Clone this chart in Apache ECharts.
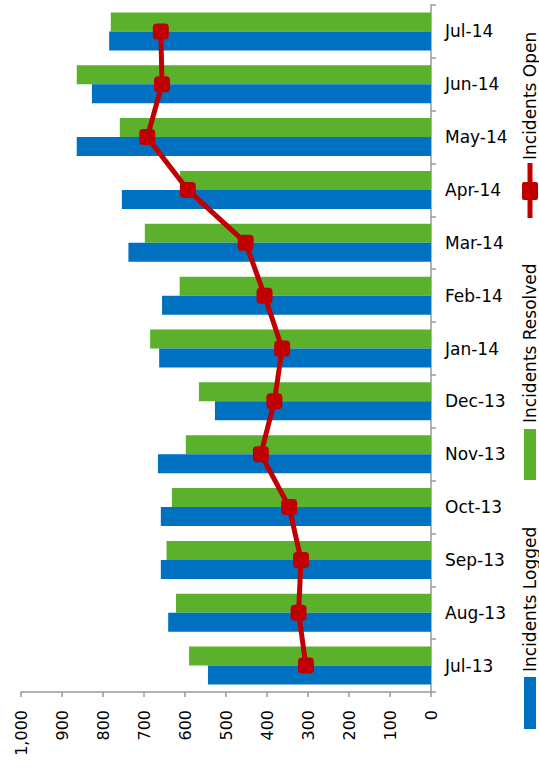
<!DOCTYPE html>
<html>
<head>
<meta charset="utf-8">
<script src="https://cdn.jsdelivr.net/npm/echarts@6/dist/echarts.min.js"></script>
<style>
  html, body { margin: 0; padding: 0; background: #fff; }
  #chart { width: 539px; height: 770px; }
</style>
</head>
<body>
<div id="chart"></div>
<script>
// Monthly incident figures, Jul-13 (bottom) to Jul-14 (top)
const months = ['Jul-13', 'Aug-13', 'Sep-13', 'Oct-13', 'Nov-13', 'Dec-13',
                'Jan-14', 'Feb-14', 'Mar-14', 'Apr-14', 'May-14', 'Jun-14', 'Jul-14'];
const logged   = [544, 641, 659, 659, 666, 527, 663, 656, 738, 754, 864, 827, 785];
const resolved = [590, 622, 645, 632, 598, 566, 685, 613, 698, 612, 759, 864, 781];
const openNow  = [305, 323, 317, 346, 415, 382, 363, 406, 452, 593, 692, 656, 659];
const seriesNames = ['Incidents Logged', 'Incidents Resolved', 'Incidents Open'];
const valueMax = 1000;
const valueStep = 100;

const BLUE = '#0070C0';
const GREEN = '#5BB12B';
const RED = '#C00000';
const AXIS = '#9a9a9a';
const FONT = 'DejaVu Sans';

const chart = echarts.init(document.getElementById('chart'), null, { renderer: 'svg' });

// Legend drawn as a vertical strip with text reading bottom-to-top
const legendX = 530;
const legendGraphics = [
  // Incidents Logged
  { type: 'rect', shape: { x: 524, y: 677, width: 12, height: 52 }, style: { fill: BLUE } },
  { type: 'text', x: legendX, y: 672, rotation: Math.PI / 2,
    style: { text: seriesNames[0], fill: '#000', font: '17px "' + FONT + '"',
             textAlign: 'left', textVerticalAlign: 'middle' } },
  // Incidents Resolved
  { type: 'rect', shape: { x: 524, y: 429, width: 12, height: 51 }, style: { fill: GREEN } },
  { type: 'text', x: legendX, y: 423, rotation: Math.PI / 2,
    style: { text: seriesNames[1], fill: '#000', font: '17px "' + FONT + '"',
             textAlign: 'left', textVerticalAlign: 'middle' } },
  // Incidents Open
  { type: 'line', shape: { x1: legendX, y1: 163, x2: legendX, y2: 218 },
    style: { stroke: RED, lineWidth: 5 } },
  { type: 'rect', shape: { x: 522, y: 182, width: 16, height: 18, r: 2 }, style: { fill: RED } },
  { type: 'text', x: legendX, y: 160, rotation: Math.PI / 2,
    style: { text: seriesNames[2], fill: '#000', font: '17px "' + FONT + '"',
             textAlign: 'left', textVerticalAlign: 'middle' } }
];

chart.setOption({
  animation: false,
  backgroundColor: '#fff',
  textStyle: { fontFamily: FONT },
  grid: { left: 21, right: 108, top: 5, bottom: 78 },
  xAxis: {
    type: 'value',
    inverse: true,
    position: 'bottom',
    min: 0,
    max: valueMax,
    interval: valueStep,
    axisLine: { show: true, lineStyle: { color: AXIS, width: 1.5 } },
    axisTick: { show: true, length: 5, lineStyle: { color: AXIS, width: 1.5 } },
    splitLine: { show: false },
    axisLabel: {
      rotate: 90,
      margin: 18,
      color: '#000',
      fontSize: 16,
      fontFamily: FONT,
      formatter: v => v.toLocaleString('en-US')
    }
  },
  yAxis: {
    type: 'category',
    position: 'right',
    data: months,
    axisLine: { show: true, lineStyle: { color: AXIS, width: 1.5 } },
    axisTick: { show: true, length: 5, lineStyle: { color: AXIS, width: 1.5 } },
    axisLabel: { margin: 14, color: '#000', fontSize: 17, fontFamily: FONT }
  },
  series: [
    // Resolved listed first so it sits above Logged within each month band
    {
      name: seriesNames[1], type: 'bar', data: resolved,
      barWidth: 19, barGap: '0%',
      itemStyle: { color: GREEN }
    },
    {
      name: seriesNames[0], type: 'bar', data: logged,
      barWidth: 19, barGap: '0%',
      itemStyle: { color: BLUE }
    },
    {
      name: seriesNames[2], type: 'line', data: openNow,
      z: 5,
      symbol: 'roundRect', symbolSize: 16,
      lineStyle: { color: RED, width: 5 },
      itemStyle: { color: RED }
    }
  ],
  graphic: legendGraphics
});
</script>
</body>
</html>
